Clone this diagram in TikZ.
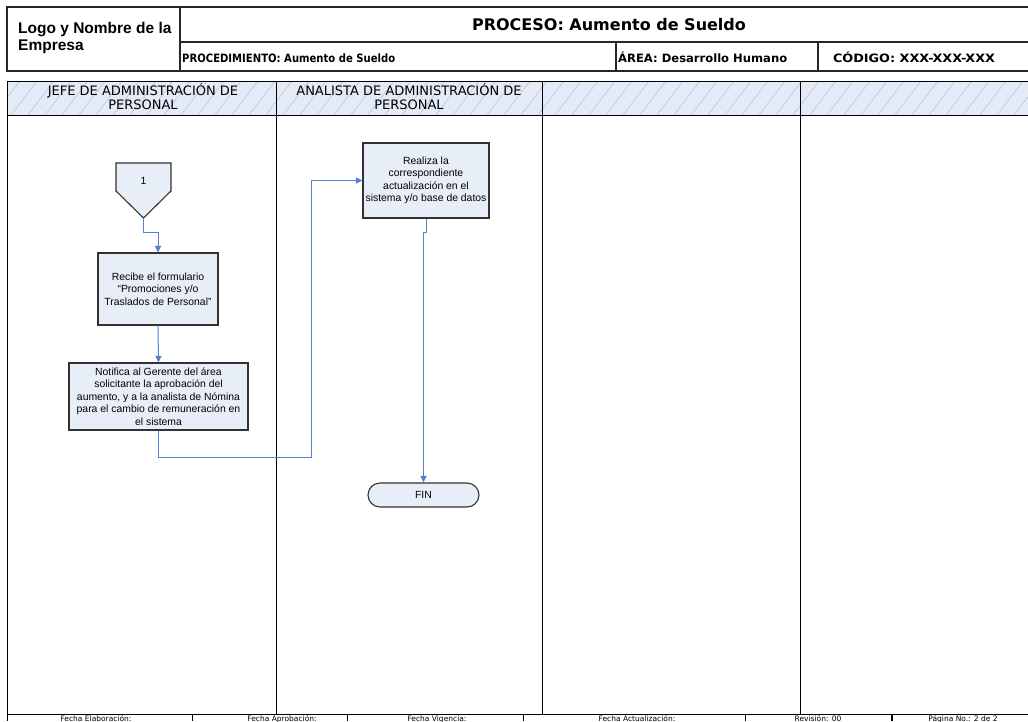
\documentclass[tikz,border=0pt]{standalone}
\usepackage{graphicx}
\usepackage{fontspec}
\setmainfont{Liberation Sans}
\newfontfamily\dv{DejaVu Sans}
\usetikzlibrary{arrows.meta}
\definecolor{nodefill}{RGB}{232,238,248}
\definecolor{nodeline}{RGB}{50,50,50}
\definecolor{flow}{RGB}{84,130,208}
\definecolor{hatchbg}{RGB}{228,235,247}
\definecolor{hatchln}{RGB}{185,200,228}
\newcommand\fitw[2]{\resizebox{#1}{\height}{#2}}
\begin{document}
\begin{tikzpicture}[x=1pt,y=-1pt,
  box/.style={draw=nodeline,fill=nodefill,line width=1.1pt,align=center,inner sep=1pt,font=\fontsize{10.4}{12.5}\selectfont},
  flowline/.style={draw=flow,line width=1pt,-{Triangle[width=6pt,length=6.5pt]}},
  frame/.style={line width=1.2pt,draw=black!85},
  lane/.style={line width=0.9pt,draw=black},
  lanehead/.style={font=\dv\fontsize{13}{14}\selectfont,align=center,inner sep=0pt,anchor=north},
  hdr/.style={font=\dv\bfseries\fontsize{11.5}{13}\selectfont,inner sep=0pt},
  foot/.style={font=\dv\fontsize{7.5}{8}\selectfont,inner sep=0pt,anchor=base}
]
\useasboundingbox (0,0) rectangle (1028,721);
\fill[white] (0,0) rectangle (1028,721);

% ---------- header ----------
\draw[frame] (7,7) rectangle (1040,71);
\draw[frame] (180,7) -- (180,71);
\draw[frame] (180,42) -- (1040,42);
\draw[frame] (616,42) -- (616,71);
\draw[frame] (818,42) -- (818,71);
\node[anchor=north west,align=left,inner sep=0pt,font=\bfseries\fontsize{15.5}{17}\selectfont] (logo) at (18,22) {Logo y Nombre de la\\Empresa};
\node[font=\dv\bfseries\fontsize{16}{18}\selectfont,inner sep=0pt,anchor=base] (title) at (609,30) {PROCESO: Aumento de Sueldo};
\node[hdr,anchor=base west] (proc) at (182,62.5) {\fitw{213pt}{PROCEDIMIENTO: Aumento de Sueldo}};
\node[hdr,anchor=base west] (area) at (618,62.5) {\fitw{169pt}{ÁREA: Desarrollo Humano}};
\node[hdr,anchor=base] (codigo) at (914,62.5) {\fitw{162pt}{CÓDIGO: XXX-XXX-XXX}};

% ---------- lane headers ----------
\fill[hatchbg] (7,81) rectangle (1040,115);
\begin{scope}
  \clip (7,81) rectangle (1040,115);
  \foreach \x in {-40,-23,...,1060} \draw[hatchln,line width=0.7pt] (\x,115) -- (\x+26,81);
\end{scope}
\draw[lane] (7,81) -- (1040,81);
\draw[lane] (7,115) -- (1040,115);
\draw[lane] (7,714) -- (1040,714);
\foreach \x in {7,276,542,800} \draw[lane] (\x,81) -- (\x,714);
\node[lanehead] (lh1) at (143,83) {JEFE DE ADMINISTRACIÓN DE\\PERSONAL};
\node[lanehead] (lh2) at (409,83) {ANALISTA DE ADMINISTRACIÓN DE\\PERSONAL};

% ---------- footer ----------
\draw[lane] (7,714) -- (7,721);
\foreach \x in {192,347,523,745} \draw[lane] (\x,714) -- (\x,721);
\draw[line width=1.8pt] (892,714) -- (892,721);
\node[foot] (f1) at (96,721) {Fecha Elaboración:};
\node[foot] (f2) at (282,721) {Fecha Aprobación:};
\node[foot] (f3) at (437,721) {Fecha Vigencia:};
\node[foot] (f4) at (637,721) {Fecha Actualización:};
\node[foot] (f5) at (818,721) {Revisión: 00};
\node[foot] (f6) at (963,721) {Página No.: 2 de 2};

% ---------- flow ----------
\draw[draw=nodeline,fill=nodefill,line width=1.1pt] (116,163) -- (171,163) -- (171,191) -- (143.5,218) -- (116,191) -- cycle;
\node[inner sep=0pt,font=\fontsize{10.4}{12}\selectfont] (c1) at (143.5,181) {1};
\coordinate (c1tip) at (143.5,218);

\node[box,minimum width=120pt,minimum height=72pt] (b1) at (158,289) {Recibe el formulario\\“Promociones y/o\\Traslados de Personal”};
\node[box,minimum width=179pt,minimum height=67pt] (b2) at (158.5,396.5) {Notifica al Gerente del área\\solicitante la aprobación del\\aumento, y a la analista de Nómina\\para el cambio de remuneración en\\el sistema};
\node[box,minimum width=126pt,minimum height=75pt] (b3) at (426,180.5) {Realiza la\\correspondiente\\actualización en el\\sistema y/o base de datos};
\node[box,minimum width=111pt,minimum height=24pt,rounded corners=12pt] (fin) at (423.5,495) {FIN};

\coordinate (j1) at (311,457);
\draw[flowline] (c1tip) -- (143.5,232) -| (b1.north);
\draw[flowline] (b1.south) -- (b2.north);
\draw[flowline] (b2.south) |- (j1) |- (b3.west);
\draw[flowline] (b3.south) -- ++(0,14) -| (fin.north);
\end{tikzpicture}
\end{document}
